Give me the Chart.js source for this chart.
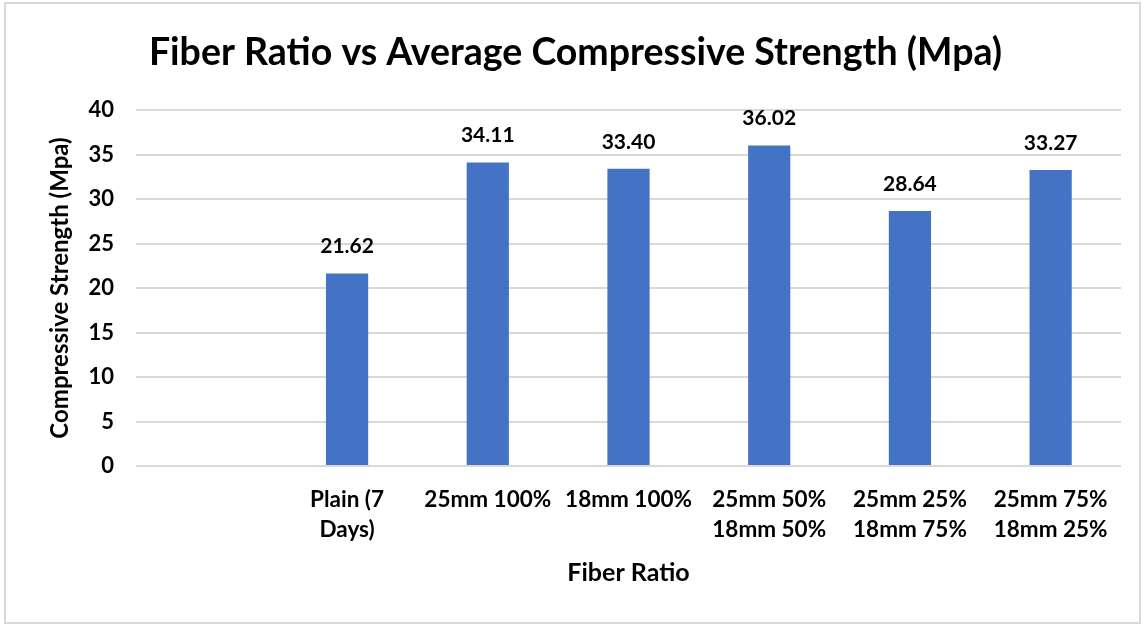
<!DOCTYPE html>
<html>
<head>
<meta charset="utf-8">
<script src="https://cdn.jsdelivr.net/npm/chart.js@4.4.1/dist/chart.umd.min.js"></script>
<style>
    html, body { margin: 0; padding: 0; background: #ffffff; }
    #wrap { width: 1146px; height: 625px; position: relative; }
</style>
</head>
<body>
<div id="wrap"><canvas id="graficoFibra"></canvas></div>
<script>
// Data
const categories = [
    '',
    ['Plain (7', 'Days)'],
    '25mm 100%',
    '18mm 100%',
    ['25mm 50%', '18mm 50%'],
    ['25mm 25%', '18mm 75%'],
    ['25mm 75%', '18mm 25%']
];
const strengthValues = [null, 21.62, 34.11, 33.40, 36.02, 28.64, 33.27];
const yTicks = [0, 5, 10, 15, 20, 25, 30, 35, 40];

const FONT = 'Lato, "Open Sans", sans-serif';

// Simple plugin: value labels above the bars
const valueLabels = {
    id: 'valueLabels',
    afterDatasetsDraw(chart) {
        const ctx = chart.ctx;
        const meta = chart.getDatasetMeta(0);
        ctx.save();
        ctx.font = 'bold 21px ' + FONT;
        ctx.fillStyle = '#000000';
        ctx.textAlign = 'center';
        ctx.textBaseline = 'middle';
        meta.data.forEach((bar, i) => {
            const v = strengthValues[i];
            if (v === null) return;
            ctx.fillText(v.toFixed(2), bar.x, bar.y - 27);
        });
        ctx.restore();
    }
};

// White background + light grey frame around the whole chart
const frame = {
    id: 'frame',
    beforeDraw(chart) {
        const ctx = chart.ctx;
        ctx.save();
        ctx.fillStyle = '#ffffff';
        ctx.fillRect(0, 0, chart.width, chart.height);
        ctx.strokeStyle = '#d9d9d9';
        ctx.lineWidth = 2;
        ctx.strokeRect(5, 3, 1135, 620);
        ctx.restore();
    }
};

const ctx = document.getElementById('graficoFibra').getContext('2d');

const grafico = new Chart(ctx, {
    type: 'bar',
    data: {
        labels: categories,
        datasets: [{
            label: 'Compressive Strength',
            data: strengthValues,
            backgroundColor: '#4472C4',
            borderWidth: 0,
            categoryPercentage: 1.0,
            barPercentage: 0.3
        }]
    },
    options: {
        responsive: true,
        maintainAspectRatio: false,
        animation: false,
        layout: {
            padding: { left: 30, right: 25, top: 0, bottom: 20 }
        },
        plugins: {
            legend: { display: false },
            tooltip: { enabled: false },
            title: {
                display: true,
                text: 'Fiber Ratio vs Average Compressive Strength (Mpa)',
                color: '#000000',
                font: { family: FONT, size: 37.5, weight: 'bold' },
                padding: { top: 30, bottom: 35 }
            }
        },
        scales: {
            x: {
                afterFit(scale) {
                    scale.height = 139; // keeps the plot bottom at the reference position
                },
                grid: { display: false, drawTicks: false },
                border: { display: false },
                ticks: {
                    color: '#000000',
                    font: { family: FONT, size: 22.5, weight: 'bold', lineHeight: 1.33 },
                    maxRotation: 0,
                    autoSkip: false,
                    padding: 19
                },
                title: {
                    display: true,
                    text: 'Fiber Ratio',
                    color: '#000000',
                    font: { family: FONT, size: 25, weight: 'bold' },
                    padding: { top: 0, bottom: 17 }
                }
            },
            y: {
                min: 0,
                max: 40,
                afterBuildTicks(scale) {
                    scale.ticks = yTicks.map(v => ({ value: v }));
                },
                afterFit(scale) {
                    scale.width = 106;
                },
                grid: {
                    color: '#d9d9d9',
                    lineWidth: 2,
                    drawTicks: false
                },
                border: { display: false },
                ticks: {
                    color: '#000000',
                    font: { family: FONT, size: 22, weight: 'bold' },
                    padding: 22
                },
                title: {
                    display: true,
                    text: 'Compressive Strength (Mpa)',
                    color: '#000000',
                    font: { family: FONT, size: 24, weight: 'bold' },
                    padding: { top: 16, bottom: 0 }
                }
            }
        }
    },
    plugins: [frame, valueLabels]
});
</script>
</body>
</html>
